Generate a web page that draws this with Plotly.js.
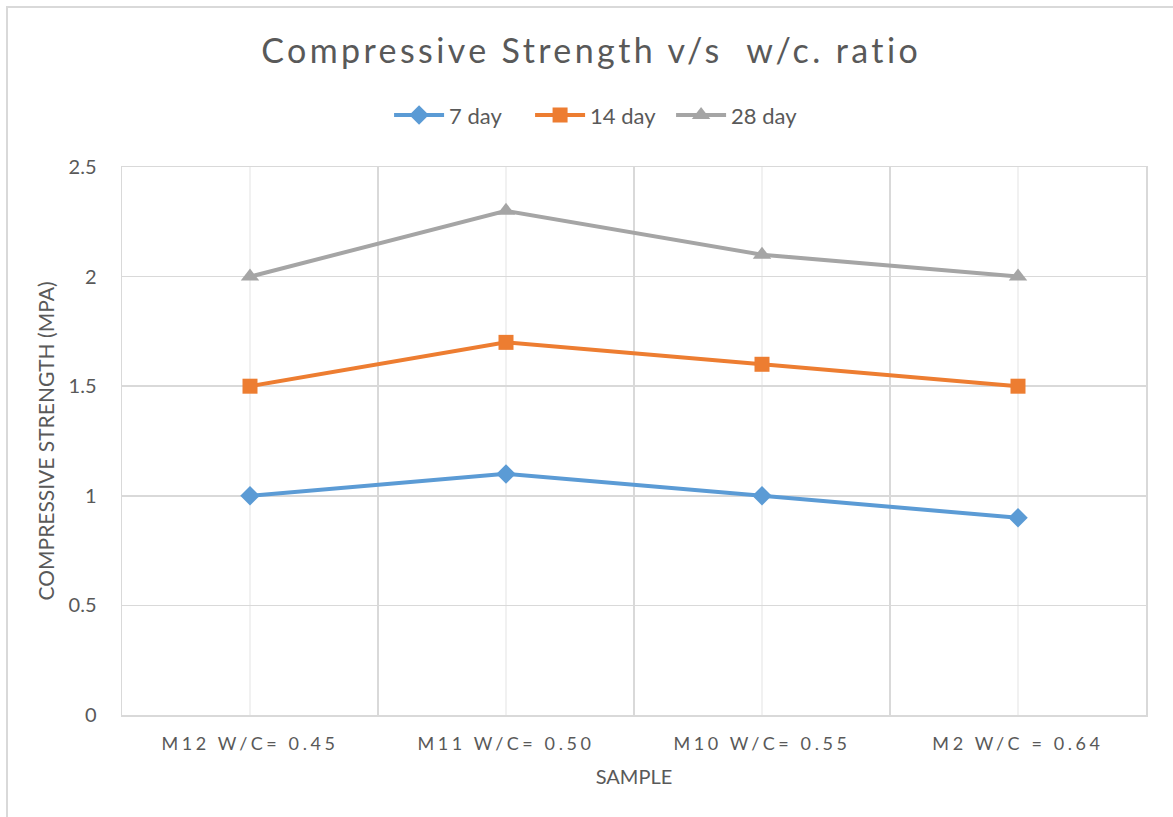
<!DOCTYPE html>
<html>
<head>
<meta charset="utf-8">
<script src="https://cdn.plot.ly/plotly-3.0.1.min.js"></script>
<style>
  html, body { margin: 0; padding: 0; background: #fff; }
  #chart { width: 1173px; height: 817px; }
  .xtick text { letter-spacing: 3.6px; }
  .gtitle { letter-spacing: 3.4px; }
</style>
</head>
<body>
<div id="chart"></div>
<script>
const categories = ["M12 W/C= 0.45", "M11 W/C= 0.50", "M10 W/C= 0.55", "M2 W/C = 0.64"];
const day7 = [1.0, 1.1, 1.0, 0.9];
const day14 = [1.5, 1.7, 1.6, 1.5];
const day28 = [2.0, 2.3, 2.1, 2.0];
const seriesNames = ["7 day", "14 day", "28 day"];

const font = "Lato, 'Open Sans', sans-serif";
const txt = "#595959";

const traces = [
  {x: categories, y: day7, name: seriesNames[0], type: "scatter", mode: "lines+markers",
   line: {color: "#5B9BD5", width: 4}, marker: {symbol: "diamond", size: 15, color: "#5B9BD5"}},
  {x: categories, y: day14, name: seriesNames[1], type: "scatter", mode: "lines+markers",
   line: {color: "#ED7D31", width: 4}, marker: {symbol: "square", size: 15, color: "#ED7D31"}},
  {x: categories, y: day28, name: seriesNames[2], type: "scatter", mode: "lines+markers",
   line: {color: "#A5A5A5", width: 4}, marker: {symbol: "triangle-up", size: 16, color: "#A5A5A5"}}
];

const centerLines = categories.map(c => ({
  type: "line", xref: "x", yref: "paper", x0: c, x1: c, y0: 0, y1: 1,
  line: {color: "#ececec", width: 1.5}, layer: "below"
}));

const layout = {
  width: 1173, height: 817,
  margin: {l: 122, r: 27, t: 167, b: 102},
  paper_bgcolor: "#ffffff", plot_bgcolor: "#ffffff",
  font: {family: font, color: txt, size: 18},
  title: {text: "Compressive Strength v/s  w/c. ratio", font: {family: font, size: 34, color: txt},
          xref: "container", x: 0.504, xanchor: "center", yref: "container", y: 0.938, yanchor: "middle"},
  showlegend: true,
  legend: {orientation: "h", xref: "container", yref: "container", x: 0.512, xanchor: "center",
           y: 0.859, yanchor: "middle", itemwidth: 50, entrywidth: 76,
           font: {family: font, size: 22, color: txt}},
  xaxis: {type: "category", range: [-0.5, 3.5], tickson: "boundaries", showgrid: true,
          gridcolor: "#d9d9d9", gridwidth: 1.5, showline: true, linecolor: "#d9d9d9", linewidth: 1.5, mirror: true,
          ticks: "", ticklabelstandoff: 12,
          tickfont: {family: font, size: 18, color: txt},
          title: {text: "SAMPLE", font: {family: font, size: 20, color: txt}, standoff: 17},
          zeroline: false, fixedrange: true},
  yaxis: {range: [0, 2.5], dtick: 0.5, tick0: 0, showgrid: true, gridcolor: "#d9d9d9", gridwidth: 1.5,
          showline: true, linecolor: "#d9d9d9", linewidth: 1.5, mirror: true, zeroline: false,
          ticks: "outside", ticklen: 20, tickcolor: "rgba(0,0,0,0)",
          tickfont: {family: font, size: 20, color: txt},
          title: {text: "COMPRESSIVE STRENGTH (MPA)", font: {family: font, size: 21, color: txt}, standoff: 8},
          fixedrange: true},
  shapes: centerLines.concat([
    {type: "rect", xref: "paper", yref: "paper", x0: -0.1123, x1: 1.04, y0: -0.2, y1: 1.292,
     line: {color: "#d9d9d9", width: 2}, fillcolor: "rgba(0,0,0,0)", layer: "below"}
  ])
};

Plotly.newPlot("chart", traces, layout, {displayModeBar: false, staticPlot: true});
</script>
</body>
</html>
